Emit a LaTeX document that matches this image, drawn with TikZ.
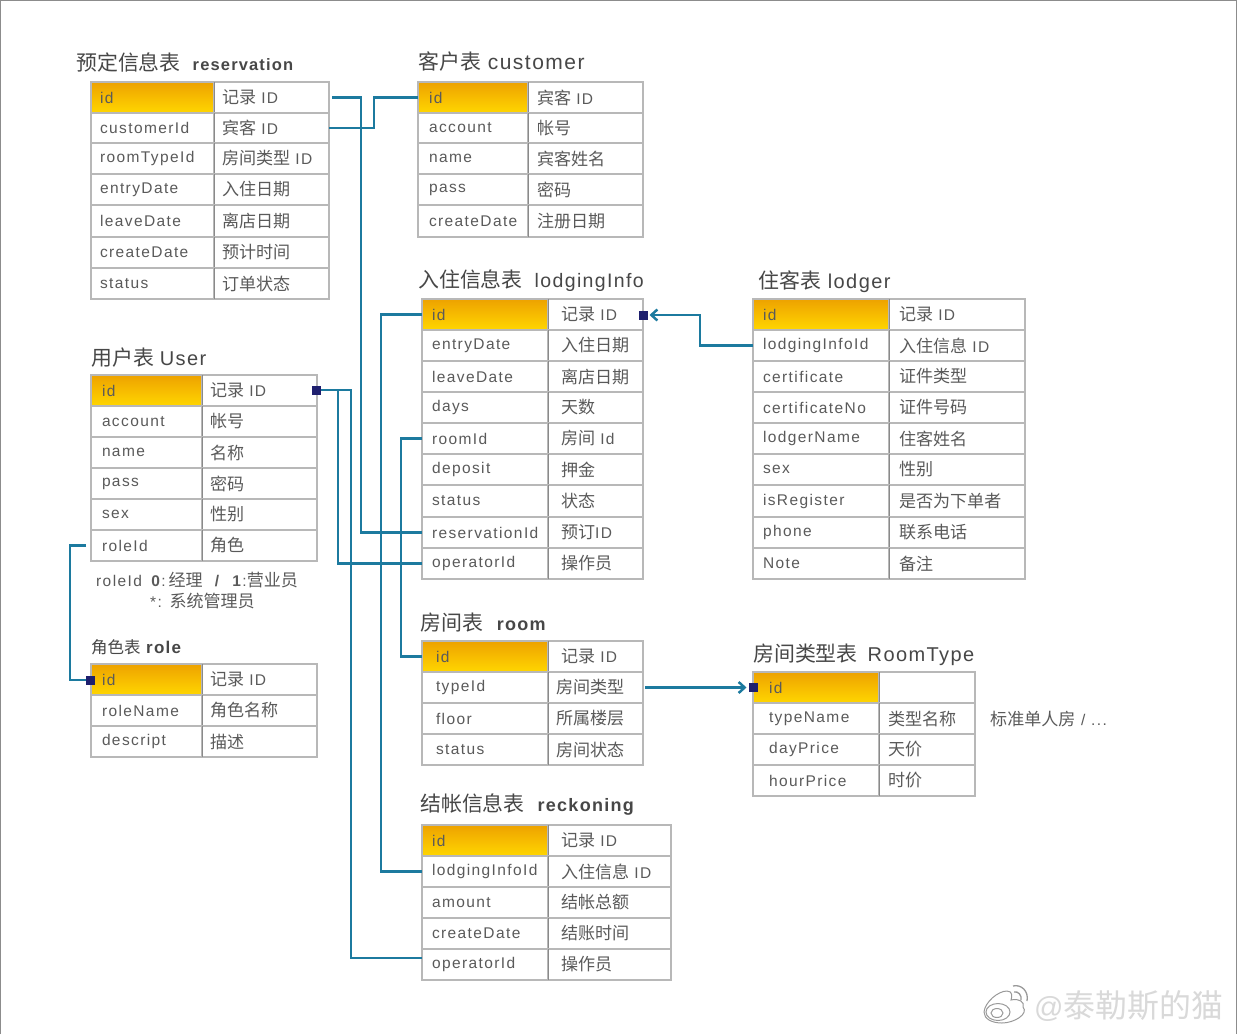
\documentclass[tikz,border=0pt]{standalone}
\usepackage{fontspec}
\setmainfont{Liberation Sans}[LetterSpace=9]
\newfontfamily\cjk{Noto Sans CJK SC}[Scale=1.1]
\newfontfamily\ttl{Liberation Sans}[LetterSpace=7]
\usetikzlibrary{arrows.meta,calc}
\definecolor{gridc}{HTML}{B8B8B8}
\definecolor{midc}{HTML}{8A8A8A}
\definecolor{txtc}{HTML}{5A5A5A}
\definecolor{linkc}{HTML}{1C7A9F}
\definecolor{pkc}{HTML}{1E1F6E}
\newcommand{\zh}[1]{{\cjk #1}}
\tikzset{
  cell/.style={draw=gridc,line width=1.1pt,anchor=north west,inner sep=0pt,outer sep=0pt,align=left,text=txtc,font=\fontsize{15.5}{18}\selectfont},
  hdr/.style={top color=hdrtop,bottom color=hdrbot,middle color=hdrmid},
  tabtitle/.style={anchor=west,inner sep=0pt,text=black!72,font=\fontsize{19}{24}\selectfont},
  small title/.style={anchor=west,inner sep=0pt,text=black!72,font=\fontsize{15}{20}\selectfont},
  note/.style={anchor=west,inner sep=0pt,text=txtc,font=\fontsize{15.5}{18}\selectfont},
  link/.style={draw=linkc,line width=2.5pt,line join=miter},
  arrowlink/.style={link,-{Straight Barb[length=6pt,width=11pt,line width=2.5pt]}},
  pk/.style={fill=pkc,draw=none,minimum size=9pt,inner sep=0pt,outer sep=0pt},
}
\definecolor{hdrtop}{HTML}{EDA200}
\definecolor{hdrmid}{HTML}{F7BC00}
\definecolor{hdrbot}{HTML}{FFD600}
% name, x left, x mid, x right, field inset, desc inset, rows field/desc/ytop/ybottom
\newcommand{\dbtab}[7]{%
  \foreach \f/\d/\t/\b [count=\i] in {#7}{%
    \pgfmathsetlengthmacro{\wa}{(#3-#2)*1pt}%
    \pgfmathsetlengthmacro{\wb}{(#4-#3)*1pt}%
    \pgfmathsetlengthmacro{\wat}{(#3-#2-2)*1pt}%
    \pgfmathsetlengthmacro{\wbt}{(#4-#3-2)*1pt}%
    \pgfmathsetlengthmacro{\hh}{(\b-\t)*1pt}%
    \pgfmathsetlengthmacro{\ia}{(#5-1)*1pt}%
    \pgfmathsetlengthmacro{\ib}{(#6-1)*1pt}%
    \ifnum\i=1
      \node[cell,hdr,minimum width=\wa,minimum height=\hh,text width=\wat] (#1-\i-f) at (#2,\t) {\hspace*{\ia}\f};
    \else
      \node[cell,minimum width=\wa,minimum height=\hh,text width=\wat] (#1-\i-f) at (#2,\t) {\hspace*{\ia}\f};
    \fi
    \node[cell,minimum width=\wb,minimum height=\hh,text width=\wbt] (#1-\i-d) at (#3,\t) {\hspace*{\ib}\d};
    \draw[midc,line width=1pt] (#3,\t) -- (#3,\b);
  }%
}
\begin{document}
\begin{tikzpicture}[x=1pt,y=-1pt]
\useasboundingbox (0,0) rectangle (1237,1034);
\fill[white] (0,0) rectangle (1237,1034);
\draw[black!45,line width=1.6pt] (0.5,1034) -- (0.5,0.5) -- (1236.5,0.5) -- (1236.5,1034);

\dbtab{res}{91}{214}{329}{9}{8}{id/\zh{记录} ID/82/113,customerId/\zh{宾客} ID/113/143,roomTypeId/\zh{房间类型} ID/143/174,entryDate/\zh{入住日期}/174/205,leaveDate/\zh{离店日期}/205/237,createDate/\zh{预计时间}/237/268,status/\zh{订单状态}/268/299}
\dbtab{cus}{418}{528}{643}{11}{9}{id/\zh{宾客} ID/82/113,account/\zh{帐号}/113/143,name/\zh{宾客姓名}/143/174,pass/\zh{密码}/174/205,createDate/\zh{注册日期}/205/237}
\dbtab{lod}{422}{548}{643}{10}{13}{id/\zh{记录} ID/299/330,entryDate/\zh{入住日期}/330/361,leaveDate/\zh{离店日期}/361/392,days/\zh{天数}/392/423,roomId/\zh{房间} Id/423/454,deposit/\zh{押金}/454/485,status/\zh{状态}/485/517,reservationId/\zh{预订}ID/517/548,operatorId/\zh{操作员}/548/579}
\dbtab{ldg}{753}{889}{1025}{10}{10}{id/\zh{记录} ID/299/330,lodgingInfoId/\zh{入住信息} ID/330/361,certificate/\zh{证件类型}/361/392,certificateNo/\zh{证件号码}/392/423,lodgerName/\zh{住客姓名}/423/454,sex/\zh{性别}/454/485,isRegister/\zh{是否为下单者}/485/517,phone/\zh{联系电话}/517/548,Note/\zh{备注}/548/579}
\dbtab{usr}{91}{202}{317}{11}{8}{id/\zh{记录} ID/375/406,account/\zh{帐号}/406/437,name/\zh{名称}/437/468,pass/\zh{密码}/468/499,sex/\zh{性别}/499/530,roleId/\zh{角色}/530/561}
\dbtab{rol}{91}{202}{317}{11}{8}{id/\zh{记录} ID/664/695,roleName/\zh{角色名称}/695/726,descript/\zh{描述}/726/757}
\dbtab{roo}{422}{548}{643}{14}{8}{id/\hspace*{5pt}\zh{记录} ID/641/672,typeId/\zh{房间类型}/672/703,floor/\zh{所属楼层}/703/734,status/\zh{房间状态}/734/765}
\dbtab{typ}{753}{879}{975}{16}{9}{id//672/703,typeName/\zh{类型名称}/703/734,dayPrice/\zh{天价}/734/765,hourPrice/\zh{时价}/765/796}
\dbtab{rec}{422}{548}{671}{10}{13}{id/\zh{记录} ID/825/856,lodgingInfoId/\zh{入住信息} ID/856/887,amount/\zh{结帐总额}/887/918,createDate/\zh{结账时间}/918/949,operatorId/\zh{操作员}/949/980}

% titles
\node[tabtitle] (t-res) at (76,62) {\zh{预定信息表}\hspace{12pt}{\ttl\fontsize{16.5}{20}\selectfont\bfseries reservation}};
\node[tabtitle] (t-cus) at (418,62) {\zh{客户表} {\ttl\fontsize{21}{24}\selectfont customer}};
\node[tabtitle] (t-lod) at (418,281) {\zh{入住信息表}\hspace{12pt}{\ttl\fontsize{19.5}{24}\selectfont lodgingInfo}};
\node[tabtitle] (t-ldg) at (758,282) {\zh{住客表}\hspace{7pt}{\ttl\fontsize{20}{24}\selectfont lodger}};
\node[tabtitle] (t-usr) at (91,358) {\zh{用户表}\hspace{6pt}{\ttl\fontsize{20}{24}\selectfont User}};
\node[small title] (t-rol) at (91,647) {\zh{角色表} {\ttl\fontsize{17}{20}\selectfont\bfseries role}};
\node[tabtitle] (t-roo) at (420,623) {\zh{房间表}\hspace{14pt}{\ttl\fontsize{18}{24}\selectfont\bfseries room}};
\node[tabtitle] (t-typ) at (753,655) {\zh{房间类型表}\hspace{10pt}{\ttl\fontsize{20}{24}\selectfont RoomType}};
\node[tabtitle] (t-rec) at (420,805) {\zh{结帐信息表}\hspace{13pt}{\ttl\fontsize{18}{24}\selectfont\bfseries reckoning}};

% notes
\node[note] (n-role1) at (96,580) {roleId\hspace{8pt}\textbf{0}:\hspace{3pt}\zh{经理}\hspace{12pt}\textbf{/}\hspace{12pt}\textbf{1}:\zh{营业员}};
\node[note] (n-role2) at (150,601) {*: \zh{系统管理员}};
\node[note] (n-type) at (990,719) {\zh{标准单人房} / ...};

% primary key markers
\node[pk] (pk-usr) at (316.5,390) {};
\node[pk] (pk-lod) at (643,315) {};
\node[pk] (pk-typ) at (753,687.5) {};
\node[pk] (pk-rol) at (90,680) {};

% bend guides and free ends
\coordinate (b-res) at (361,0);
\coordinate (b-cus) at (374,0);
\coordinate (b-op1) at (338,0);
\coordinate (b-op2) at (351,0);
\coordinate (b-lod) at (381,0);
\coordinate (b-roo) at (401,0);
\coordinate (b-ldg) at (700,0);
\coordinate (b-rol) at (70,0);
\coordinate (e-rec5) at ([yshift=6.5pt]rec-5-f.west);

% connectors
\draw[link] ([xshift=3pt]res-1-d.east) -- (res-1-d.east -| b-res) -- (b-res |- lod-8-f.west) -- (lod-8-f.west);
\draw[link] (res-2-d.east) -- (res-2-d.east -| b-cus) -- (b-cus |- cus-1-f.west) -- (cus-1-f.west);
\draw[link] (pk-usr.east) -- (pk-usr.east -| b-op1) -- (b-op1 |- lod-9-f.west) -- (lod-9-f.west);
\draw[link] (pk-usr.east) -- (pk-usr.east -| b-op2) -- (b-op2 |- e-rec5) -- (e-rec5);
\draw[link] (lod-1-f.west) -- (lod-1-f.west -| b-lod) -- (b-lod |- rec-2-f.west) -- (rec-2-f.west);
\draw[link] (lod-5-f.west) -- (lod-5-f.west -| b-roo) -- (b-roo |- roo-1-f.west) -- (roo-1-f.west);
\draw[arrowlink] (ldg-2-f.west) -- (ldg-2-f.west -| b-ldg) -- (b-ldg |- pk-lod.east) -- ([xshift=2pt]pk-lod.east);
\draw[arrowlink] ([xshift=2pt]roo-2-d.east) -- ([xshift=-2pt]pk-typ.west |- roo-2-d.east);
\draw[link] ([xshift=-5pt]usr-6-f.west) -- (usr-6-f.west -| b-rol) -- (b-rol |- pk-rol.west) -- (pk-rol.west);

% watermark
\begin{scope}[draw=black!40,line width=1pt]
  \draw (984,1012) .. controls (985,1002) and (998,991) .. (1007,991) .. controls (1013,991) and (1012,997) .. (1011,1000) .. controls (1019,998) and (1025,1002) .. (1023,1007) .. controls (1029,1014) and (1014,1023) .. (1002,1023) .. controls (992,1023) and (984,1019) .. (984,1012);
  \draw (998,1012) ellipse [x radius=12,y radius=8.5];
  \draw (997,1013) ellipse [x radius=6,y radius=4.5];
  \draw[line width=1.3pt] (1013,986) .. controls (1021,984) and (1029,991) .. (1027,1001);
  \draw[line width=1.3pt] (1014,992) .. controls (1018,991) and (1022,995) .. (1021,1000);
\end{scope}
\node[anchor=west,inner sep=0pt,text=black!15,font=\fontsize{29}{34}\selectfont] (wm) at (1034,1006) {@\zh{泰勒斯的猫}};
\end{tikzpicture}
\end{document}
